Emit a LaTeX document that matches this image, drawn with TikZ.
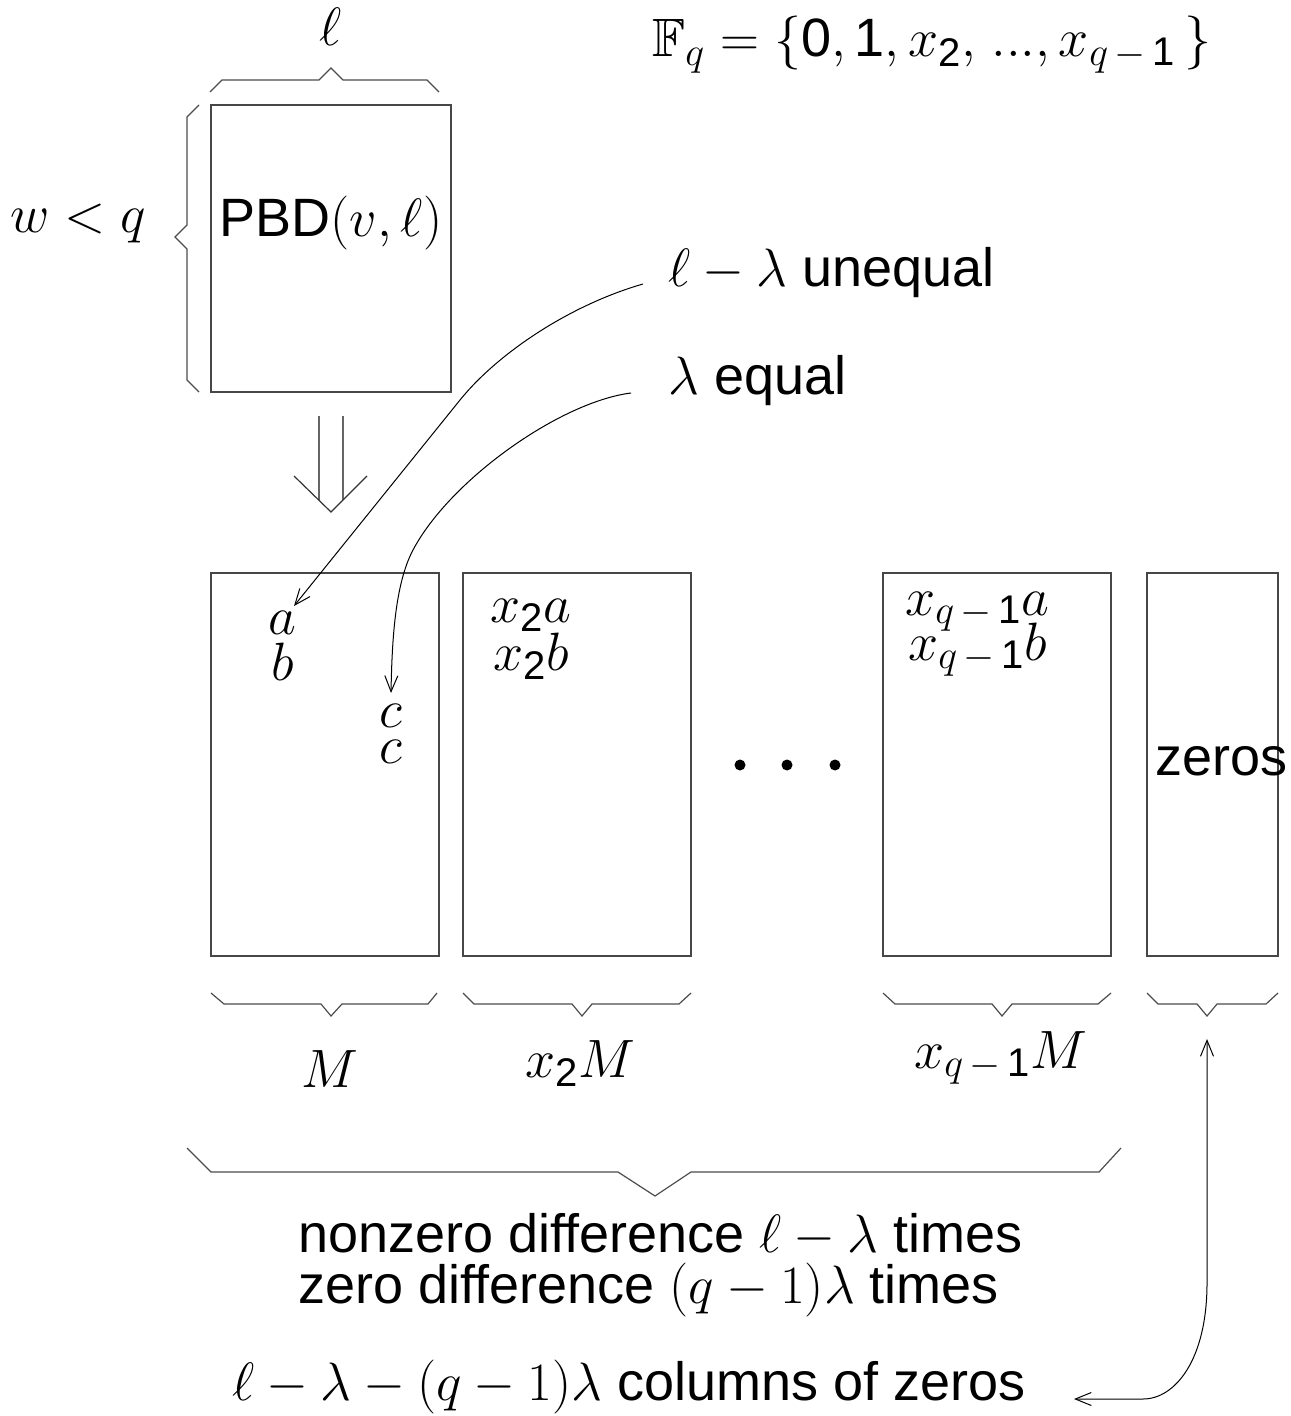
\RequirePackage{fix-cm}
\documentclass[tikz,border=0pt]{standalone}
\usepackage{amsmath,amssymb}
\usepackage[no-math]{fontspec}
\setmainfont{Liberation Sans}
\usetikzlibrary{arrows.meta}
\DeclareMathSizes{27}{27}{20}{14}
\newcommand{\dg}[1]{\text{#1}}
\newcommand{\qmo}{q\mskip3mu{-}\mskip3mu\dg{1}}
\begin{document}
\begin{tikzpicture}[x=0.5pt,y=-0.5pt,
  lbl/.style={inner sep=0pt,font=\fontsize{27}{31}\selectfont},
  boxn/.style={draw=black!72,line width=0.8pt,inner sep=0pt,minimum height=191.5pt,minimum width=114pt},
  brace/.style={draw=black!70,line width=0.6pt},
  conn/.style={draw=black,line width=0.5pt},
  tip/.style={-{Straight Barb[length=8pt,width=6.5pt]}},
  dot/.style={circle,fill=black,inner sep=0pt,minimum size=5.5pt}]
\useasboundingbox (0,0) rectangle (1290,1416);
% boxes
\node[boxn,minimum width=120pt,minimum height=143.5pt] (top) at (331,248.5) {};
\node[boxn] (bM) at (325,764.5) {};
\node[boxn] (bX) at (577,764.5) {};
\node[boxn] (bQ) at (997,764.5) {};
\node[boxn,minimum width=65.5pt] (bZ) at (1212.5,764.5) {};
% top labels
\node[lbl,anchor=base] (ell) at (331,46) {$\ell$};
\node[lbl,anchor=base west] (Fq) at (652,57) {$\mathbb{F}_q=\{\dg{0},\dg{1},x_{\dg{2}},\mskip2mu...,x_{\qmo}\mskip3mu\}$};
\node[lbl,anchor=base west] (wq) at (10,233) {$w<q$};
\node[lbl,anchor=base] (pbd) at (331,237) {PBD$(v,\ell)$};
\node[lbl,anchor=base west] (uneq) at (668,287) {$\ell-\lambda$ unequal};
\node[lbl,anchor=base west] (eq) at (668,395) {$\lambda$ equal};
% braces
\draw[brace] (210,92) -- (222,80) -- (319,80) -- (331,68) -- (343,80) -- (427,80) -- (439,92);
\draw[brace] (199,105) -- (187,117) -- (187,225) -- (175,237) -- (187,249) -- (187,380) -- (199,392);
% double arrow
\draw[draw=black!60,line width=0.75pt] (319,416) -- (319,500) (343,416) -- (343,500);
\draw[draw=black!80,line width=0.6pt] (294,476) -- (331,512) -- (367,476);
% entries
\node[lbl,anchor=base] (a) at (282,634) {$a$};
\node[lbl,anchor=base] (b) at (283,680) {$b$};
\node[lbl,anchor=base] (c1) at (391,727) {$c$};
\node[lbl,anchor=base] (c2) at (391,763) {$c$};
\node[lbl,anchor=base west] (x2a) at (490,622) {$x_{\dg{2}}a$};
\node[lbl,anchor=base west] (x2b) at (493,670) {$x_{\dg{2}}b$};
\node[lbl,anchor=base west] (xqa) at (905,615) {$x_{\qmo}a$};
\node[lbl,anchor=base west] (xqb) at (908,660) {$x_{\qmo}b$};
\node[lbl,anchor=base west] (zeros) at (1155,775) {zeros};
\node[dot] (d1) at (740,765) {};
\node[dot] (d2) at (787,765) {};
\node[dot] (d3) at (835,765) {};
% bottom braces
\draw[brace] (211,993) -- (224,1004) -- (321,1004) -- (331,1016) -- (342,1004) -- (428,1004) -- (437,993);
\draw[brace] (463,993) -- (474,1004) -- (572,1004) -- (582,1016) -- (592,1004) -- (679,1004) -- (691,993);
\draw[brace] (883,993) -- (895,1004) -- (992,1004) -- (1002,1016) -- (1012,1004) -- (1098,1004) -- (1111,993);
\draw[brace] (1147,993) -- (1158,1004) -- (1197,1004) -- (1207,1016) -- (1217,1004) -- (1266,1004) -- (1278,993);
\draw[brace] (187,1148) -- (211,1172) -- (618,1172) -- (655,1196) -- (691,1172) -- (1099,1172) -- (1121,1148);
\node[lbl,anchor=base] (M) at (330,1087) {$M$};
\node[lbl,anchor=base west] (x2M) at (525,1077) {$x_{\dg{2}}M$};
\node[lbl,anchor=base west] (xqM) at (914,1068) {$x_{\qmo}M$};
\node[lbl,anchor=base west] (nz) at (298,1252) {nonzero difference $\ell-\lambda$ times};
\node[lbl,anchor=base west] (zd) at (298,1303) {zero difference $(q-1)\lambda$ times};
\node[lbl,anchor=base west] (cz) at (232,1400) {$\ell-\lambda-(q-1)\lambda$ columns of zeros};
% connectors
\coordinate (s1) at (643,284);
\coordinate (e1) at (294,606);
\coordinate (s2) at (631,393);
\coordinate (e2) at (391,693);
\coordinate (zt) at (1207,1039);
\coordinate (ze) at (1074,1399);
\draw[conn,tip] (s1) .. controls (570,305) and (498,353) .. (460,400) -- (e1);
\draw[conn,tip] (s2) .. controls (560,402) and (450,480) .. (413,550) .. controls (395,584) and (392,640) .. (e2);
\draw[conn,{Straight Barb[length=8pt,width=6.5pt]}-{Straight Barb[length=8pt,width=6.5pt]}] (ze) -- (1143,1399) .. controls (1175,1399) and (1207,1360) .. (1207,1283) -- (zt);
\end{tikzpicture}
\end{document}
